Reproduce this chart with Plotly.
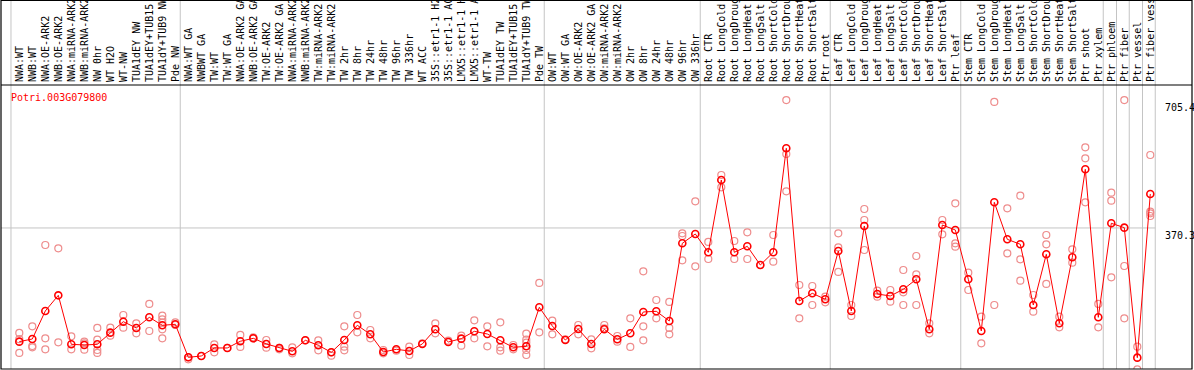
import plotly.graph_objects as go

gene = "Potri.003G079800"

labels = [
    "NWA:WT", "NWB:WT", "NWA:OE-ARK2", "NWB:OE-ARK2", "NWA:miRNA-ARK2", "NWB:miRNA-ARK2",
    "NW 0hr", "WT H2O", "WT-NW", "TUA1dEY NW", "TUA1dEY+TUB15 NW", "TUA1dY+TUB9 NW", "Pde NW",
    "NWA:WT GA", "NWBWT GA", "TW:WT", "TW:WT GA", "NWA:OE-ARK2 GA", "NWB:OE-ARK2 GA",
    "TW:OE-ARK2", "TW:OE-ARK2 GA", "NWA:miRNA-ARK2", "NWB:miRNA-ARK2", "TW:miRNA-ARK2",
    "TW:miRNA-ARK2", "TW 2hr", "TW 8hr", "TW 24hr", "TW 48hr", "TW 96hr", "TW 336hr", "WT ACC",
    "35S::etr1-1 H2O", "35S::etr1-1 ACC", "LMX5::etr1-1 H2O", "LMX5::etr1-1 ACC", "WT-TW",
    "TUA1dEY TW", "TUA1dEY+TUB15 TW", "TUA1dY+TUB9 TW", "Pde TW",
    "OW:WT", "OW:WT GA", "OW:OE-ARK2", "OW:OE-ARK2 GA", "OW:miRNA-ARK2", "OW:miRNA-ARK2",
    "OW 2hr", "OW 8hr", "OW 24hr", "OW 48hr", "OW 96hr", "OW 336hr",
    "Root CTR", "Root LongCold", "Root LongDrought", "Root LongHeat", "Root LongSalt",
    "Root ShortCold", "Root ShortDrought", "Root ShortHeat", "Root ShortSalt", "Ptr root",
    "Leaf CTR", "Leaf LongCold", "Leaf LongDrought", "Leaf LongHeat", "Leaf LongSalt",
    "Leaf ShortCold", "Leaf ShortDrought", "Leaf ShortHeat", "Leaf ShortSalt", "Ptr leaf",
    "Stem CTR", "Stem LongCold", "Stem LongDrought", "Stem LongHeat", "Stem LongSalt",
    "Stem ShortCold", "Stem ShortDrought", "Stem ShortHeat", "Stem ShortSalt", "Ptr shoot",
    "Ptr xylem", "Ptr phloem", "Ptr fiber", "Ptr vessel", "Ptr fiber vessel",
]

means = [
    72.5, 79.4, 152.8, 193.8, 65.5, 63.7, 65.5, 96, 124.8, 108.3, 136.2, 115.3, 117.9,
    31.4, 34.9, 55.9, 55.9, 73.4, 81.2, 66.4, 55.9, 47.1, 76, 62.9, 44.5, 76.8, 115.3,
    91.7, 45.4, 52.4, 48, 66.4, 104.8, 71.6, 80.3, 99.5, 92.5, 76, 57.6, 60.2, 162.4,
    113.5, 76.8, 105.6, 66.4, 104.8, 78.6, 94.3, 150.2, 151.9, 126.6, 330.1, 354.5,
    306.5, 496, 306.5, 322.2, 273.3, 306.5, 579, 179, 199.1, 183.4,
    310, 152.8, 375.5, 197.3, 192.1, 209.6, 235.8, 104.8, 378.1, 365,
    235.8, 100.4, 437.5, 340.6, 327.5, 168.5, 301.3, 120.5, 293.4, 524, 136.2,
    382.5, 371.1, 30.5, 459.3,
]

replicates = [
    [95.2, 42.8, 79], [112.6, 61.1, 57.6], [325.7, 81.2, 52.4], [317, 70.7], [86.4, 52.4],
    [72.5, 51.5, 68.1], [108.3, 77.7, 50.6, 42.8], [109.1, 88.2], [142.3, 109.1], [120.5, 94.3],
    [171.2, 100.4], [140.6, 131, 122.2, 104.8, 81.2], [123.1, 116.1],
    [26.2, 31.4], [34.9], [65.5, 44.5], [55.9], [90, 58.5], [83.8, 81.2], [76.8, 56.7],
    [52.4, 55.9], [57.6, 41.9], [76], [76, 49.7], [35.8, 44.5], [112.6, 59.3, 49.7],
    [142.3, 96.9], [103, 81.2], [50.6, 41.9], [48.9], [59.3, 37.5], [68.1], [120.5, 94.3],
    [75.1], [88.2, 62], [128.3, 81.2], [112.6, 60.2], [123.1, 57.6, 48.9], [63.7, 52.4],
    [93.4, 77.7, 69.9, 50.6, 37.5], [226.2, 96.9],
    [127.5, 91.7], [78.6], [116.1, 91.7], [78.6, 55], [116.1, 107.4], [87.3, 72.5],
    [133.6, 58.5], [256.7, 112.6, 76], [181.6, 133.6], [176.4, 108.3, 91.7],
    [356.3, 349.3, 285.5], [440.1, 269.8],
    [333.6, 289], [509.1, 476.8], [336.2, 289], [358.9, 289], [273.3], [351.9, 282],
    [705.4, 564.1, 466.3], [220.9, 133.6], [218.3, 168.5], [190.4, 175.5],
    [356.3, 319.6, 255], [168.5, 139.7], [420, 391.2, 312.6], [206.1, 190.4],
    [207.8, 177.3], [260.2, 201.7, 168.5], [296.9, 248.9, 168.5], [120.5, 94.3],
    [391.2, 353.7], [434.9, 330.1, 321.3],
    [253.2, 207.8], [138, 68.1], [700.5, 168.5], [421.8, 303.9], [455, 288.2, 232.3],
    [194.7, 151.1], [351.9, 327.5, 223.6], [138, 110], [314.4, 279.4],
    [581.6, 552.8, 437.5], [171.2, 110],
    [462.8, 441.9, 241], [705.4, 270.7, 133.6], [59.3, 0], [561.5, 413, 408.7, 401.7],
]

yticks = [0, 370.3, 705.4]
group_bounds = [-0.64, 12.38, 40.38, 52.38, 62.38, 72.42, 83.38, 84.4, 85.38, 86.4, 87.38]

idx = list(range(len(labels)))
rx, ry = [], []
for i, reps in enumerate(replicates):
    for v in reps:
        rx.append(i)
        ry.append(v)

fig = go.Figure()
fig.add_trace(go.Scatter(
    x=rx, y=ry, mode="markers",
    marker=dict(symbol="circle-open", size=7, color="rgb(238,140,140)", line=dict(width=1.2)),
    hoverinfo="skip", showlegend=False,
))
fig.add_trace(go.Scatter(
    x=idx, y=means, mode="lines+markers",
    line=dict(color="#ff0000", width=1),
    marker=dict(symbol="circle-open", size=7, color="#ff0000", line=dict(width=1.6)),
    showlegend=False,
))

W, H = 1194, 370
ml, mr, mt, mb = 1, 2, 85, 1
plot_h = H - mt - mb
# x mapping: first category at pixel 19.3, 13 px apart
x0 = (ml - 19.3) / 13
x1 = (W - mr - 19.3) / 13
ymin = (369.3 - (H - mb)) * 2.62
ymax = (369.3 - mt) * 2.62

shapes = []
for b in group_bounds:
    shapes.append(dict(type="line", xref="x", yref="paper", x0=b, x1=b, y0=0, y1=1 + mt / plot_h,
                       line=dict(color="#c4c4c4", width=1), layer="below"))
shapes.append(dict(type="line", xref="x", yref="y", x0=x0, x1=group_bounds[-1], y0=yticks[1], y1=yticks[1],
                   line=dict(color="#c4c4c4", width=1), layer="below"))
shapes.append(dict(type="line", xref="paper", yref="paper", x0=0, x1=1, y0=1, y1=1,
                   line=dict(color="black", width=1.2)))
shapes.append(dict(type="rect", xref="paper", yref="paper", x0=0, x1=1, y0=0, y1=1 + (mt - 0.5) / plot_h,
                   line=dict(color="black", width=1.2)))

annotations = [dict(
    text=gene, xref="paper", yref="paper", x=(9 - ml) / (W - ml - mr), y=(H - mb - 97) / plot_h,
    xanchor="left", yanchor="middle", showarrow=False,
    font=dict(family="DejaVu Sans Mono", size=10, color="#ff0000"),
)]
for t in yticks:
    annotations.append(dict(
        text=str(t), xref="paper", yref="y", x=(1163 - ml) / (W - ml - mr), y=t,
        xanchor="left", yanchor="bottom" if t == 0 else "top", showarrow=False,
        font=dict(family="DejaVu Sans Mono", size=10, color="black"),
    ))

fig.update_layout(
    width=W, height=H, margin=dict(l=ml, r=mr, t=mt, b=mb),
    paper_bgcolor="white", plot_bgcolor="white",
    shapes=shapes, annotations=annotations, showlegend=False,
    xaxis=dict(range=[x0, x1], side="top", tickmode="array", tickvals=idx, ticktext=labels,
               tickangle=-90, ticks="", showgrid=False, zeroline=False, showline=False,
               ticklabelstandoff=2,
               tickfont=dict(family="DejaVu Sans Mono", size=10, color="black"), automargin=False),
    yaxis=dict(range=[ymin, ymax], showticklabels=False, showgrid=False, zeroline=False,
               showline=False, automargin=False),
)

fig.write_html("out.html", config={"displayModeBar": False},
               post_script="document.body.style.margin='0';document.body.style.overflow='hidden';")
